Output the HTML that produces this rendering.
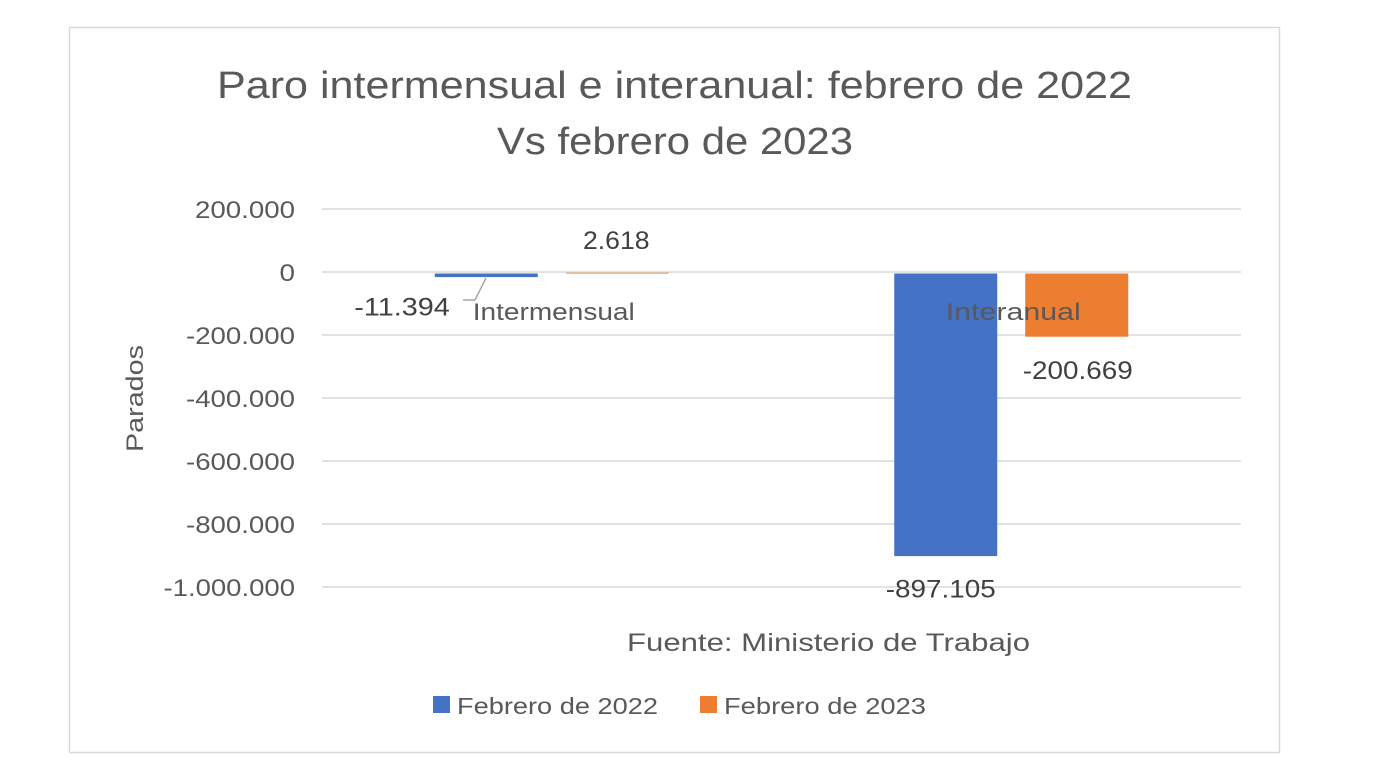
<!DOCTYPE html>
<html><head><meta charset="utf-8"><style>
html,body{margin:0;padding:0;background:#fff;}
svg{display:block;font-family:"Liberation Sans",sans-serif;}
</style></head><body>
<svg id="chart" width="1390" height="784">
<rect x="69.5" y="27.5" width="1210" height="725" fill="#fff" stroke="#d9d9d9" stroke-width="1.5"/>
<text x="217" y="98" font-size="38" fill="#595959" textLength="915" lengthAdjust="spacingAndGlyphs">Paro intermensual e interanual: febrero de 2022</text>
<text x="497" y="154" font-size="38" fill="#595959" textLength="356" lengthAdjust="spacingAndGlyphs">Vs febrero de 2023</text>
<text transform="translate(143,452) rotate(-90)" font-size="24" fill="#595959" textLength="107" lengthAdjust="spacingAndGlyphs">Parados</text>
<g id="grid"></g><g id="bars"></g><g id="labels"></g>
<line x1="486" y1="278" x2="475" y2="300" stroke="#a6a6a6" stroke-width="1.5"/>
<line x1="475" y1="300" x2="463" y2="300" stroke="#a6a6a6" stroke-width="1.5"/>
<text x="627" y="651" font-size="25" fill="#595959" textLength="403" lengthAdjust="spacingAndGlyphs">Fuente: Ministerio de Trabajo</text>
<rect x="433" y="696" width="17" height="17" fill="#4472c4"/>
<text x="457" y="714" font-size="23" fill="#595959" textLength="201" lengthAdjust="spacingAndGlyphs">Febrero de 2022</text>
<rect x="700" y="696" width="17" height="17" fill="#ed7d31"/>
<text x="724" y="714" font-size="23" fill="#595959" textLength="202" lengthAdjust="spacingAndGlyphs">Febrero de 2023</text>
</svg>
<script>
const categories = ["Intermensual", "Interanual"];
const series2022 = [-11394, -897105];
const series2023 = [2618, -200669];
const tickValues = [200000, 0, -200000, -400000, -600000, -800000, -1000000];
const tickLabels = ["200.000", "0", "-200.000", "-400.000", "-600.000", "-800.000", "-1.000.000"];
const valueLabels2022 = ["-11.394", "-897.105"];
const valueLabels2023 = ["2.618", "-200.669"];

const NS = "http://www.w3.org/2000/svg";
const X0 = 322, X1 = 1241;
function y(v){ return 272 - v * (63.0/200000); }
const band = (X1 - X0) / categories.length;
function cx(i){ return X0 + band * (i + 0.5); }
function mk(tag, attrs, parent, text){
  const e = document.createElementNS(NS, tag);
  for (const k in attrs) e.setAttribute(k, attrs[k]);
  if (text !== undefined) e.textContent = text;
  parent.appendChild(e); return e;
}
function tw(s){ let w=0; for (const ch of s) w += (ch === "." ? 7 : (ch === "-" ? 9 : 15.5)); return w; }
const grid = document.getElementById("grid"), bars = document.getElementById("bars"), labels = document.getElementById("labels");
tickValues.forEach((v, i) => {
  const l = mk("line", {x1: X0, x2: X1, y1: y(v), y2: y(v), stroke: "#d9d9d9", "stroke-width": 1.5}, grid);
  
  
  const t = mk("text", {x: 295, y: y(v) + 9, "text-anchor": "end", "font-size": 24, fill: "#595959", textLength: tw(tickLabels[i]), lengthAdjust: "spacingAndGlyphs"}, grid, tickLabels[i]);
  
  
});
const bw = 103, gap = 28;
function bar(v, x, color){
  const top = Math.min(y(0), y(v)), h = Math.abs(y(v) - y(0));
  return mk("rect", {x: x, y: top + 1.5, width: bw, height: Math.max(h, 0.3), fill: color}, bars);
}
categories.forEach((c, i) => {
  const c0 = cx(i);
  const b1 = bar(series2022[i], c0 - gap/2 - bw, "#4472c4");
  
  
  const b2 = bar(series2023[i], c0 + gap/2, "#ed7d31");
  
  
  const cl = mk("text", {x: c0 + 2, y: 320, "text-anchor": "middle", "font-size": 24, fill: "#595959", textLength: c.length * 13.5, lengthAdjust: "spacingAndGlyphs"}, labels, c);
  
  
});
function vlab(x, yy, s, name){
  const t = mk("text", {x: x, y: yy, "text-anchor": "middle", "font-size": 25, fill: "#404040", textLength: s.length * 14.5 - 6, lengthAdjust: "spacingAndGlyphs"}, labels, s);
  
  
}
vlab(402, y(series2022[0]) + 40, valueLabels2022[0], 'value-label-2022');
vlab(cx(1) - gap/2 - bw/2 - 5, y(series2022[1]) + 43, valueLabels2022[1], 'value-label-2022');
vlab(cx(0) + gap/2 + bw/2 - 1, y(series2023[0]) - 22, valueLabels2023[0], 'value-label-2023');
vlab(cx(1) + gap/2 + bw/2 + 1, y(series2023[1]) + 44, valueLabels2023[1], 'value-label-2023');
</script>
</body></html>
